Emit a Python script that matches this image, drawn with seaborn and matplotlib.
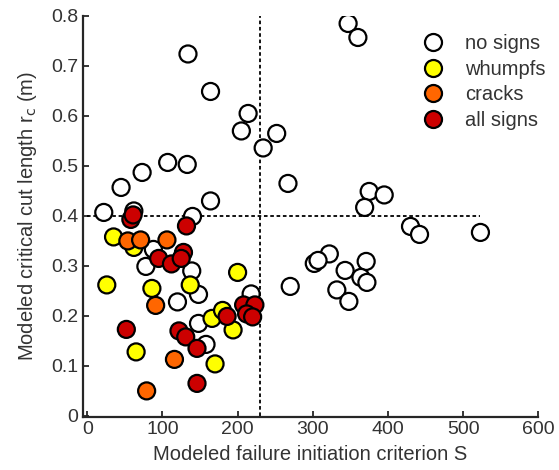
import numpy as np
import matplotlib
matplotlib.use("Agg")
import matplotlib.pyplot as plt
import seaborn as sns
import pandas as pd

# grupos y colores
groups = ["no signs", "whumpfs", "cracks", "all signs"]
colors = ["white", "#ffff00", "#ff6600", "#cc0000"]

# S y r_c
s_none = [134, 164, 214, 205, 234, 252, 267, 107, 133, 73, 45, 164, 22, 140, 62,
          347, 360, 375, 395, 369, 430, 442, 523, 322, 302, 307, 343, 371, 364,
          372, 332, 348, 270, 78, 88, 139, 148, 120, 148, 158, 218]
rc_none = [0.724, 0.649, 0.605, 0.570, 0.536, 0.565, 0.465, 0.507, 0.503, 0.487,
           0.457, 0.430, 0.407, 0.399, 0.410, 0.785, 0.757, 0.449, 0.442, 0.417,
           0.379, 0.363, 0.367, 0.324, 0.305, 0.311, 0.291, 0.309, 0.277, 0.267,
           0.252, 0.229, 0.259, 0.299, 0.333, 0.290, 0.243, 0.228, 0.185, 0.143,
           0.244]

s_whumpf = [35, 26, 62, 86, 65, 137, 200, 166, 180, 194, 170]
rc_whumpf = [0.358, 0.262, 0.337, 0.255, 0.128, 0.262, 0.287, 0.195, 0.211, 0.172, 0.104]

s_crack = [54, 71, 106, 91, 116, 79]
rc_crack = [0.350, 0.352, 0.352, 0.221, 0.113, 0.050]

s_all = [58, 61, 132, 95, 112, 128, 125, 52, 122, 131, 146, 146, 186, 208, 223, 212, 220]
rc_all = [0.393, 0.402, 0.380, 0.315, 0.304, 0.327, 0.315, 0.173, 0.170, 0.158,
          0.135, 0.065, 0.199, 0.222, 0.222, 0.204, 0.198]

# umbrales
s_crit = 230
rc_crit = 0.4

df = pd.DataFrame({
    "S": s_none + s_whumpf + s_crack + s_all,
    "rc": rc_none + rc_whumpf + rc_crack + rc_all,
    "grupo": [groups[0]] * len(s_none) + [groups[1]] * len(s_whumpf)
             + [groups[2]] * len(s_crack) + [groups[3]] * len(s_all),
})

sns.set_style("ticks")
plt.rcParams["font.family"] = ["Liberation Sans", "DejaVu Sans"]

fig = plt.figure(figsize=(5.59, 4.70), dpi=100)
ax = fig.add_axes([0.148, 0.113, 0.815, 0.853])

ax.plot([s_crit, s_crit], [0, 0.8], color="black", lw=1.3, ls=(0, (2, 1.5)), zorder=1)
ax.plot([0, 523], [rc_crit, rc_crit], color="black", lw=1.3, ls=(0, (2, 1.5)), zorder=1)

sns.scatterplot(data=df, x="S", y="rc", hue="grupo", hue_order=groups,
                palette=dict(zip(groups, colors)), s=150, edgecolor="black",
                linewidth=1.6, ax=ax, zorder=3)

ax.set_xlim(-6, 600)
ax.set_ylim(-0.002, 0.8)
ax.set_xticks(np.arange(0, 601, 100))
ax.set_yticks(np.arange(0, 0.81, 0.1))
ax.set_yticklabels(["0", "0.1", "0.2", "0.3", "0.4", "0.5", "0.6", "0.7", "0.8"])
ax.tick_params(direction="in", length=4, width=1.3, labelsize=14, labelcolor="#333333", pad=3)
for side in ["left", "bottom"]:
    ax.spines[side].set_linewidth(1.6)
sns.despine(ax=ax)

ax.set_xlabel("Modeled failure initiation criterion S", fontsize=14.5, color="#333333", labelpad=5)
ax.set_ylabel("Modeled critical cut length r$_\\mathrm{c}$ (m)", fontsize=14.5, color="#333333", labelpad=9)

leg = ax.legend(loc="upper right", bbox_to_anchor=(1.055, 1.0), frameon=False,
                fontsize=14.5, handletextpad=0.6, labelspacing=0.33, markerscale=1.0)
for t in leg.get_texts():
    t.set_color("#333333")

fig.savefig("out.png", dpi=100)
